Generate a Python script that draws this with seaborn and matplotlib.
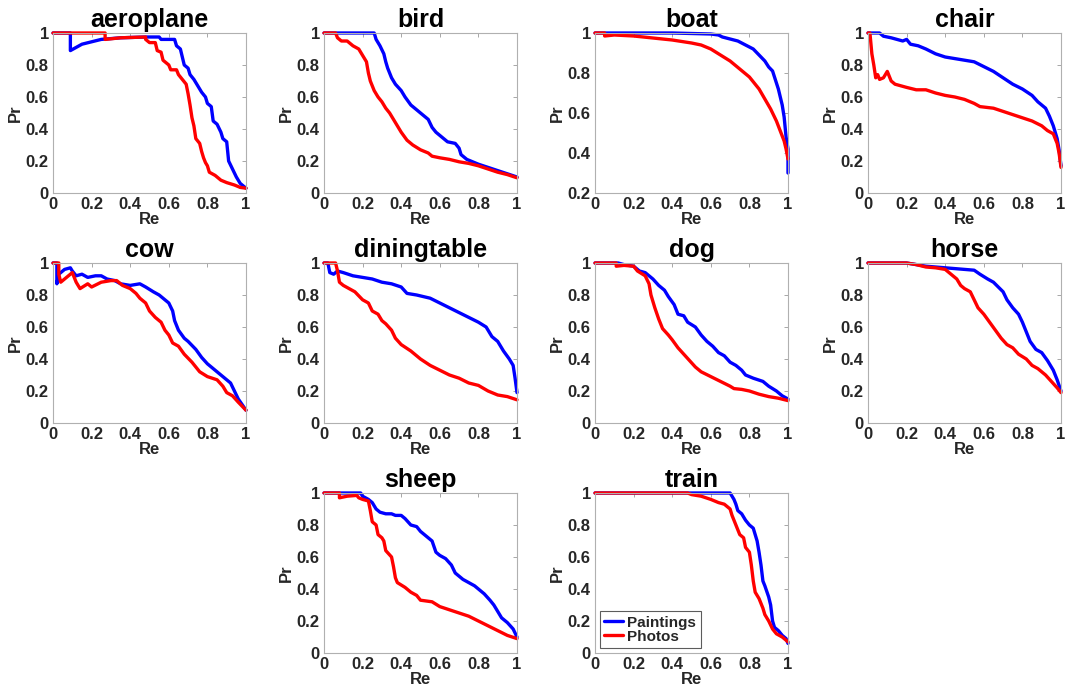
import pandas as pd
import matplotlib
matplotlib.use("Agg")
import matplotlib.pyplot as plt
import seaborn as sns

# (recall, precision) points, one list per curve
aeroplane_paint = [(0, 1), (0.09, 1), (0.09, 0.89), (0.15, 0.93), (0.25, 0.96), (0.35, 0.97), (0.48, 0.975),
                   (0.55, 0.975), (0.56, 0.96), (0.63, 0.96), (0.64, 0.92), (0.66, 0.9), (0.67, 0.85), (0.68, 0.8),
                   (0.7, 0.78), (0.71, 0.74), (0.73, 0.71), (0.75, 0.67), (0.77, 0.63), (0.79, 0.6), (0.8, 0.56),
                   (0.82, 0.54), (0.83, 0.45), (0.85, 0.43), (0.87, 0.38), (0.88, 0.34), (0.9, 0.32), (0.91, 0.2),
                   (0.93, 0.15), (0.95, 0.1), (0.97, 0.06), (0.99, 0.04), (1.0, 0.03)]
aeroplane_photo = [(0, 1), (0.27, 1), (0.27, 0.96), (0.35, 0.97), (0.48, 0.975), (0.48, 0.96), (0.5, 0.94),
                   (0.53, 0.94), (0.54, 0.89), (0.56, 0.88), (0.57, 0.83), (0.6, 0.8), (0.61, 0.77), (0.64, 0.77),
                   (0.65, 0.74), (0.67, 0.71), (0.69, 0.68), (0.7, 0.62), (0.71, 0.55), (0.72, 0.47), (0.73, 0.42),
                   (0.74, 0.34), (0.76, 0.31), (0.77, 0.26), (0.78, 0.22), (0.79, 0.19), (0.8, 0.17), (0.81, 0.13),
                   (0.84, 0.11), (0.87, 0.08), (0.9, 0.065), (0.94, 0.05), (0.97, 0.035), (1.0, 0.03)]

bird_paint = [(0, 1), (0.26, 1), (0.27, 0.96), (0.29, 0.92), (0.31, 0.87), (0.32, 0.82), (0.33, 0.78), (0.35, 0.72),
              (0.37, 0.68), (0.4, 0.64), (0.42, 0.6), (0.45, 0.55), (0.48, 0.52), (0.52, 0.48), (0.54, 0.46),
              (0.56, 0.41), (0.58, 0.38), (0.6, 0.36), (0.62, 0.34), (0.64, 0.32), (0.68, 0.31), (0.7, 0.28),
              (0.71, 0.24), (0.74, 0.21), (0.8, 0.18), (0.85, 0.16), (0.9, 0.14), (0.95, 0.12), (1.0, 0.1)]
bird_photo = [(0, 1), (0.06, 1), (0.07, 0.97), (0.09, 0.95), (0.12, 0.95), (0.15, 0.92), (0.18, 0.9), (0.2, 0.86),
              (0.22, 0.82), (0.23, 0.75), (0.24, 0.7), (0.26, 0.64), (0.28, 0.6), (0.3, 0.57), (0.32, 0.53),
              (0.34, 0.5), (0.36, 0.46), (0.38, 0.42), (0.4, 0.38), (0.43, 0.33), (0.46, 0.3), (0.5, 0.27),
              (0.54, 0.25), (0.56, 0.23), (0.6, 0.22), (0.65, 0.21), (0.7, 0.195), (0.75, 0.185), (0.8, 0.17),
              (0.85, 0.15), (0.9, 0.13), (0.95, 0.115), (1.0, 0.095)]

boat_paint = [(0, 1), (0.4, 1), (0.6, 0.995), (0.64, 0.99), (0.66, 0.98), (0.7, 0.97), (0.74, 0.96), (0.78, 0.94),
              (0.82, 0.92), (0.86, 0.88), (0.88, 0.86), (0.9, 0.83), (0.92, 0.81), (0.93, 0.78), (0.95, 0.72),
              (0.97, 0.64), (0.98, 0.58), (0.99, 0.48), (1.0, 0.42), (1.0, 0.3)]
boat_photo = [(0, 1), (0.05, 1), (0.05, 0.985), (0.1, 0.99), (0.2, 0.985), (0.3, 0.975), (0.4, 0.965), (0.5, 0.95),
              (0.55, 0.94), (0.6, 0.92), (0.65, 0.89), (0.7, 0.86), (0.75, 0.82), (0.8, 0.78), (0.85, 0.72),
              (0.88, 0.67), (0.91, 0.62), (0.94, 0.56), (0.96, 0.51), (0.98, 0.46), (0.99, 0.42), (1.0, 0.37)]

chair_paint = [(0, 1), (0.06, 1), (0.08, 0.98), (0.12, 0.97), (0.15, 0.96), (0.18, 0.95), (0.2, 0.96), (0.22, 0.93),
               (0.26, 0.92), (0.3, 0.9), (0.35, 0.87), (0.4, 0.85), (0.45, 0.84), (0.5, 0.83), (0.55, 0.82),
               (0.6, 0.79), (0.65, 0.76), (0.7, 0.72), (0.75, 0.68), (0.8, 0.65), (0.85, 0.61), (0.88, 0.57),
               (0.92, 0.53), (0.94, 0.48), (0.96, 0.42), (0.98, 0.34), (0.99, 0.27), (1.0, 0.17)]
chair_photo = [(0, 1), (0.01, 1), (0.02, 0.87), (0.03, 0.8), (0.04, 0.72), (0.05, 0.74), (0.06, 0.71), (0.08, 0.72),
               (0.1, 0.76), (0.12, 0.7), (0.14, 0.68), (0.17, 0.67), (0.2, 0.66), (0.25, 0.645), (0.3, 0.645),
               (0.35, 0.625), (0.4, 0.61), (0.45, 0.6), (0.5, 0.585), (0.55, 0.56), (0.58, 0.54), (0.65, 0.53),
               (0.7, 0.51), (0.75, 0.49), (0.8, 0.47), (0.85, 0.45), (0.9, 0.42), (0.93, 0.39), (0.96, 0.37),
               (0.98, 0.31), (0.99, 0.25), (1.0, 0.16)]

cow_paint = [(0, 1), (0.02, 1), (0.02, 0.87), (0.03, 0.93), (0.06, 0.96), (0.09, 0.97), (0.1, 0.95), (0.12, 0.92),
             (0.15, 0.93), (0.18, 0.91), (0.22, 0.92), (0.25, 0.92), (0.28, 0.9), (0.32, 0.89), (0.35, 0.87),
             (0.4, 0.86), (0.45, 0.87), (0.48, 0.85), (0.52, 0.82), (0.55, 0.8), (0.6, 0.75), (0.62, 0.7),
             (0.63, 0.64), (0.65, 0.58), (0.68, 0.53), (0.7, 0.51), (0.74, 0.46), (0.77, 0.41), (0.8, 0.37),
             (0.85, 0.32), (0.88, 0.29), (0.92, 0.25), (0.94, 0.2), (0.96, 0.15), (1.0, 0.08)]
cow_photo = [(0, 1), (0.03, 1), (0.03, 0.93), (0.04, 0.88), (0.06, 0.9), (0.1, 0.94), (0.12, 0.88), (0.14, 0.84),
             (0.18, 0.87), (0.2, 0.85), (0.25, 0.88), (0.3, 0.89), (0.33, 0.89), (0.36, 0.86), (0.4, 0.84),
             (0.43, 0.81), (0.45, 0.78), (0.48, 0.75), (0.5, 0.7), (0.53, 0.66), (0.56, 0.63), (0.58, 0.58),
             (0.6, 0.55), (0.62, 0.5), (0.65, 0.48), (0.68, 0.43), (0.72, 0.38), (0.76, 0.32), (0.8, 0.29),
             (0.85, 0.27), (0.88, 0.23), (0.9, 0.19), (0.93, 0.17), (0.96, 0.13), (1.0, 0.08)]

diningtable_paint = [(0, 1), (0.02, 1), (0.03, 0.94), (0.05, 0.93), (0.07, 0.95), (0.1, 0.94), (0.15, 0.92),
                     (0.2, 0.91), (0.25, 0.9), (0.3, 0.88), (0.35, 0.87), (0.4, 0.85), (0.43, 0.81), (0.48, 0.8),
                     (0.55, 0.78), (0.6, 0.75), (0.65, 0.72), (0.7, 0.69), (0.75, 0.66), (0.8, 0.63), (0.84, 0.6),
                     (0.87, 0.54), (0.9, 0.51), (0.93, 0.45), (0.96, 0.4), (0.98, 0.36), (0.99, 0.28), (1.0, 0.19)]
diningtable_photo = [(0, 1), (0.06, 1), (0.07, 0.95), (0.08, 0.88), (0.1, 0.86), (0.13, 0.84), (0.16, 0.82),
                     (0.2, 0.77), (0.23, 0.75), (0.25, 0.7), (0.28, 0.68), (0.3, 0.64), (0.32, 0.62), (0.35, 0.58),
                     (0.37, 0.53), (0.4, 0.49), (0.45, 0.45), (0.5, 0.4), (0.55, 0.36), (0.6, 0.33), (0.65, 0.3),
                     (0.7, 0.28), (0.75, 0.25), (0.8, 0.235), (0.85, 0.2), (0.9, 0.175), (0.95, 0.165), (1.0, 0.145)]

dog_paint = [(0, 1), (0.12, 1), (0.15, 0.99), (0.2, 0.98), (0.23, 0.95), (0.26, 0.94), (0.3, 0.9), (0.33, 0.86),
             (0.36, 0.83), (0.38, 0.79), (0.41, 0.74), (0.43, 0.68), (0.46, 0.67), (0.48, 0.63), (0.52, 0.6),
             (0.55, 0.55), (0.58, 0.51), (0.61, 0.48), (0.64, 0.44), (0.67, 0.42), (0.7, 0.38), (0.73, 0.36),
             (0.76, 0.33), (0.78, 0.3), (0.82, 0.28), (0.87, 0.26), (0.9, 0.23), (0.94, 0.2), (0.97, 0.17),
             (1.0, 0.15)]
dog_photo = [(0, 1), (0.11, 1), (0.11, 0.98), (0.15, 0.985), (0.2, 0.98), (0.22, 0.95), (0.26, 0.92), (0.28, 0.87),
             (0.29, 0.8), (0.31, 0.72), (0.33, 0.65), (0.35, 0.59), (0.38, 0.55), (0.4, 0.52), (0.43, 0.47),
             (0.46, 0.43), (0.49, 0.39), (0.52, 0.35), (0.55, 0.32), (0.6, 0.29), (0.65, 0.26), (0.7, 0.23),
             (0.72, 0.215), (0.76, 0.21), (0.8, 0.2), (0.85, 0.18), (0.9, 0.165), (0.95, 0.155), (1.0, 0.14)]

horse_paint = [(0, 1), (0.2, 1), (0.25, 0.99), (0.3, 0.98), (0.35, 0.975), (0.4, 0.97), (0.45, 0.965), (0.5, 0.96),
               (0.55, 0.955), (0.58, 0.93), (0.62, 0.9), (0.65, 0.88), (0.7, 0.82), (0.72, 0.77), (0.75, 0.72),
               (0.78, 0.68), (0.8, 0.63), (0.82, 0.57), (0.84, 0.51), (0.87, 0.46), (0.9, 0.44), (0.93, 0.39),
               (0.96, 0.33), (0.98, 0.27), (1.0, 0.2)]
horse_photo = [(0, 1), (0.2, 1), (0.25, 0.99), (0.3, 0.975), (0.35, 0.97), (0.4, 0.96), (0.43, 0.93), (0.46, 0.9),
               (0.48, 0.86), (0.5, 0.84), (0.53, 0.82), (0.55, 0.77), (0.57, 0.72), (0.6, 0.68), (0.63, 0.63),
               (0.66, 0.58), (0.69, 0.53), (0.72, 0.49), (0.75, 0.47), (0.78, 0.43), (0.82, 0.4), (0.85, 0.36),
               (0.88, 0.34), (0.92, 0.3), (0.95, 0.26), (0.98, 0.22), (1.0, 0.19)]

sheep_paint = [(0, 1), (0.19, 1), (0.2, 0.98), (0.23, 0.96), (0.25, 0.94), (0.27, 0.9), (0.29, 0.88), (0.32, 0.87),
               (0.35, 0.87), (0.37, 0.86), (0.4, 0.86), (0.42, 0.84), (0.45, 0.8), (0.48, 0.79), (0.5, 0.76),
               (0.53, 0.73), (0.56, 0.7), (0.58, 0.63), (0.6, 0.61), (0.63, 0.59), (0.66, 0.55), (0.68, 0.5),
               (0.72, 0.46), (0.75, 0.44), (0.78, 0.42), (0.8, 0.4), (0.83, 0.37), (0.86, 0.33), (0.88, 0.3),
               (0.9, 0.26), (0.92, 0.22), (0.95, 0.19), (0.98, 0.15), (1.0, 0.1)]
sheep_photo = [(0, 1), (0.08, 1), (0.08, 0.97), (0.12, 0.98), (0.17, 0.985), (0.18, 0.97), (0.2, 0.96),
               (0.23, 0.95), (0.24, 0.89), (0.25, 0.82), (0.27, 0.8), (0.28, 0.74), (0.3, 0.72), (0.31, 0.7),
               (0.32, 0.64), (0.35, 0.6), (0.36, 0.54), (0.37, 0.47), (0.38, 0.44), (0.42, 0.41), (0.45, 0.38),
               (0.48, 0.36), (0.5, 0.33), (0.56, 0.32), (0.6, 0.29), (0.65, 0.27), (0.7, 0.25), (0.75, 0.23),
               (0.8, 0.2), (0.85, 0.17), (0.9, 0.14), (0.95, 0.11), (1.0, 0.09)]

train_paint = [(0, 1), (0.65, 1), (0.7, 1), (0.71, 0.98), (0.72, 0.96), (0.73, 0.93), (0.74, 0.89), (0.76, 0.87),
               (0.78, 0.83), (0.8, 0.8), (0.82, 0.78), (0.83, 0.74), (0.84, 0.7), (0.85, 0.63), (0.86, 0.55),
               (0.87, 0.45), (0.88, 0.42), (0.9, 0.35), (0.91, 0.3), (0.92, 0.2), (0.93, 0.16), (0.95, 0.14),
               (0.97, 0.11), (0.99, 0.09), (1.0, 0.06)]
train_photo = [(0, 1), (0.48, 1), (0.5, 0.99), (0.55, 0.98), (0.6, 0.96), (0.64, 0.94), (0.67, 0.93), (0.7, 0.9),
               (0.71, 0.86), (0.73, 0.8), (0.75, 0.74), (0.77, 0.72), (0.78, 0.66), (0.8, 0.63), (0.81, 0.55),
               (0.82, 0.45), (0.83, 0.38), (0.85, 0.34), (0.87, 0.28), (0.88, 0.24), (0.9, 0.2), (0.92, 0.15),
               (0.94, 0.12), (0.97, 0.1), (1.0, 0.07)]

titles = ["aeroplane", "bird", "boat", "chair", "cow", "diningtable", "dog", "horse", "sheep", "train"]
paint_curves = [aeroplane_paint, bird_paint, boat_paint, chair_paint, cow_paint,
                diningtable_paint, dog_paint, horse_paint, sheep_paint, train_paint]
photo_curves = [aeroplane_photo, bird_photo, boat_photo, chair_photo, cow_photo,
                diningtable_photo, dog_photo, horse_photo, sheep_photo, train_photo]
series_names = ["Paintings", "Photos"]

sns.set_style("white")
plt.rcParams['font.family'] = ['Liberation Sans', 'DejaVu Sans']
plt.rcParams['font.weight'] = 'bold'

W, H = 1065, 689
fig = plt.figure(figsize=(W / 100, H / 100), dpi=100)

# axes boxes in pixels: left x, top y
col_x = [53, 324, 595, 868]
row_y = [33, 263, 493]
slots = [(0, 0), (0, 1), (0, 2), (0, 3), (1, 0), (1, 1), (1, 2), (1, 3), (2, 1), (2, 2)]
aw, ah = 193, 160
ticks = [0, 0.2, 0.4, 0.6, 0.8, 1]
tick_text = ["0", "0.2", "0.4", "0.6", "0.8", "1"]

for i, name in enumerate(titles):
    r, c = slots[i]
    ax = fig.add_axes([col_x[c] / W, (H - row_y[r] - ah) / H, aw / W, ah / H])
    rows = []
    for s, pts in zip(series_names, [paint_curves[i], photo_curves[i]]):
        for re, pr in pts:
            rows.append({"Re": re, "Pr": pr, "source": s})
    df = pd.DataFrame(rows)
    sns.lineplot(data=df, x="Re", y="Pr", hue="source", palette={"Paintings": "#0000ff", "Photos": "#ff0000"},
                 sort=False, estimator=None, linewidth=2.4, ax=ax, clip_on=False,
                 legend=(name == "train"))
    ax.set_xlim(0, 1)
    if name == "boat":
        ax.set_ylim(0.2, 1)
        ax.set_yticks(ticks[1:])
        ax.set_yticklabels(tick_text[1:])
    else:
        ax.set_ylim(0, 1)
        ax.set_yticks(ticks)
        ax.set_yticklabels(tick_text)
    ax.set_xticks(ticks)
    ax.set_xticklabels(tick_text)
    ax.tick_params(direction="in", length=3, width=0.6, color="#999999", labelsize=12, pad=3,
                   top=True, right=True, labelcolor="#262626")
    for sp in ax.spines.values():
        sp.set_color("#b0b0b0")
        sp.set_linewidth(0.8)
    ax.set_title(name, fontsize=18, fontweight="bold", pad=4, color="black")
    ax.set_xlabel("Re", fontsize=12, fontweight="bold", labelpad=0, color="#262626")
    ax.set_ylabel("Pr", fontsize=12, fontweight="bold", labelpad=2, color="#262626")
    if name == "train":
        leg = ax.legend(loc="lower left", fontsize=11, frameon=True, handlelength=1.2, borderpad=0.3,
                        labelspacing=0.0, handletextpad=0.3, borderaxespad=0.3, fancybox=False)
        leg.get_frame().set_edgecolor("#333333")
        leg.get_frame().set_linewidth(0.8)
        for t in leg.get_texts():
            t.set_fontweight("bold")

fig.savefig("out.png", dpi=100)
